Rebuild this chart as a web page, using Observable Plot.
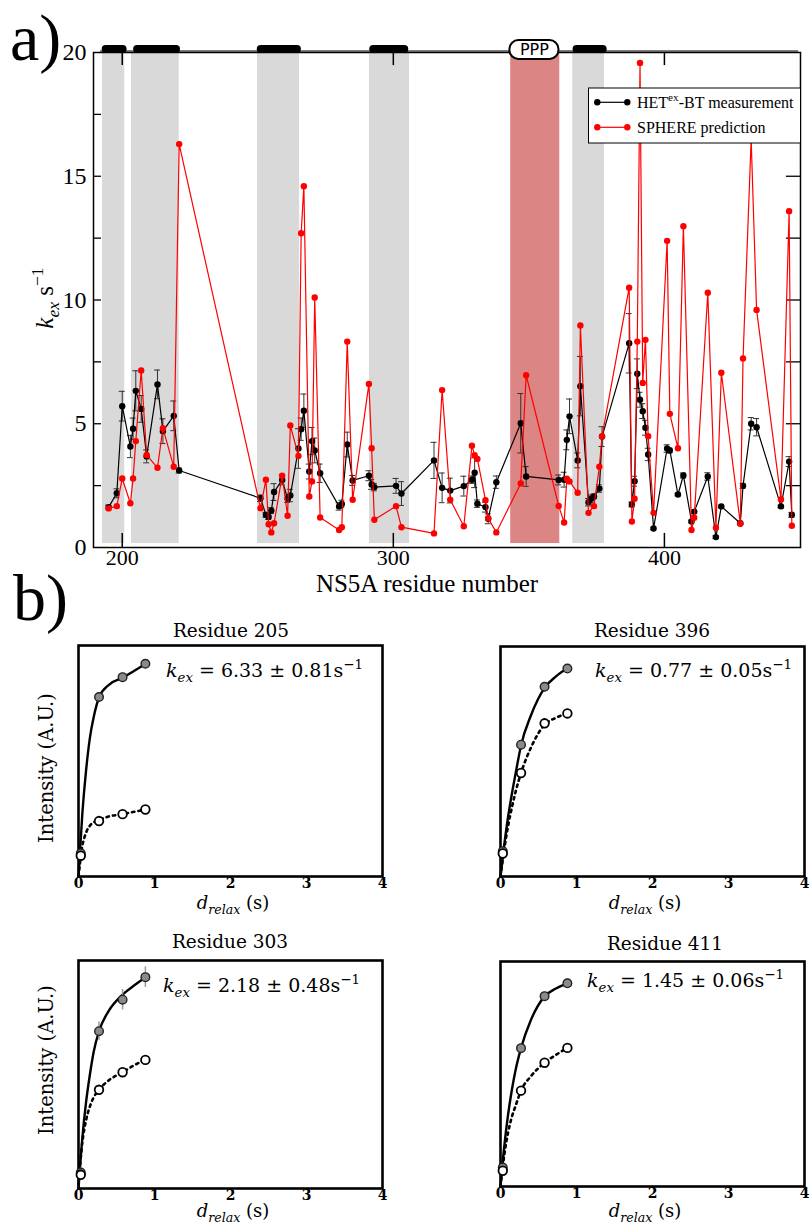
<!DOCTYPE html>
<html><head><meta charset="utf-8">
<script src="https://cdn.jsdelivr.net/npm/d3@7"></script>
<script src="https://cdn.jsdelivr.net/npm/@observablehq/plot@0.6"></script>
<style>
body{margin:0;background:#fff;}
#wrap{position:relative;width:810px;height:1223px;overflow:hidden;background:#fff;}
#wrap svg{position:absolute;}
</style></head><body><div id="wrap"></div>
<script>
// ---------- panel a) data ----------
const resB = [195,198,200,203,204,205,207,209,213,215,219,221,
  251,253,254,255,256,259,261,262,265,266,267,269,270,271,273,
  280,281,283,285,291,292,293,301,303,
  315,318,321,326,329,330,331,334,335,338,347,349,
  361,363,364,365,368,369,372,373,374,376,377,
  387,388,389,390,391,392,393,394,396,
  401,402,405,407,410,411,416,419,421,428,429,432,434,443,446,447];
const kexB = [1.63,2.19,5.71,4.08,4.8,6.33,5.6,3.68,6.59,4.7,5.32,3.11,
  1.99,1.32,1.23,1.49,2.24,2.73,1.97,2.1,4.0,4.78,5.53,3.07,4.3,3.92,3.0,
  1.66,1.76,4.16,2.71,2.9,2.55,2.44,2.49,2.18,
  3.52,2.41,2.3,2.48,2.74,3.02,1.77,1.63,1.16,2.64,5.02,2.87,
  2.73,2.74,4.35,5.3,3.52,6.52,1.83,1.97,2.06,2.38,4.48,
  8.25,1.74,2.68,7.02,5.97,5.51,4.84,3.76,0.77,
  4.0,3.92,2.14,2.91,1.05,1.45,2.87,0.42,1.66,0.98,2.49,5.0,4.86,1.66,3.47,1.32];
const errB = [0.08,0.18,0.6,0.45,0.43,0.81,0.54,0.26,0.58,0.5,0.6,0.1,
  0.13,0.1,0.1,0.12,0.34,0.2,0.15,0.25,0.8,0.45,0.67,0.3,0.55,0.5,0.37,
  0.15,0.15,0.5,0.2,0.2,0.2,0.15,0.3,0.48,
  0.73,0.6,0.5,0.4,0.15,0.6,0.15,0.2,0.2,0.25,1.2,0.4,
  0.2,0.3,0.4,0.7,0.3,1.2,0.15,0.15,0.1,0.15,0.4,
  1.2,0.1,0.2,0.6,0.3,0.3,0.3,0.25,0.05,
  0.15,0.1,0.05,0.1,0.05,0.06,0.15,0.05,0.05,0.05,0.1,0.25,0.35,0.05,0.2,0.1];
const resR = [195,198,200,203,204,205,207,209,213,215,219,221,
  251,253,254,255,256,259,261,262,265,266,267,269,270,271,273,
  280,281,283,285,291,292,293,301,303,
  315,318,321,326,329,330,331,334,335,338,347,349,
  361,363,364,365,368,369,372,374,376,377,
  387,388,389,390,391,392,393,394,396,
  401,402,405,407,410,411,416,419,421,428,429,432,434,443,446,447];
const kexR = [1.58,1.67,2.79,1.79,2.79,4.3,7.15,3.74,3.22,4.82,3.26,16.3,
  1.59,2.74,0.94,0.61,0.98,2.9,1.28,4.93,3.7,12.7,14.6,2.06,2.67,10.1,1.21,
  0.71,0.82,8.32,1.93,6.61,4.01,1.12,1.67,0.82,
  0.57,6.36,1.93,0.86,4.11,3.73,3.58,1.91,1.18,0.61,2.59,6.96,
  1.68,1.01,2.78,2.67,2.21,8.97,1.4,1.67,3.26,4.5,
  10.5,1.05,1.97,8.32,19.58,6.65,8.39,4.5,1.4,
  12.39,5.4,4.01,12.98,0.71,1.2,10.29,0.8,7.06,0.96,7.64,16.5,9.6,1.94,13.59,0.88];
const greyFrom = [192.7,203.4,249.9,291.2,366.2];
const greyTo   = [200.9,221.0,265.4,306.0,377.9];
const pppFrom = 343.3, pppTo = 361.4;
const barFrom = [192.6,204.2,249.8,291.3,366.3];
const barTo   = [201.8,221.5,266.1,305.7,378.9];
const pppLabel = "PPP";
const yTicks = [0,5,10,15,20];
const yTickMarks = [2.5,5,7.5,10,12.5,15,17.5];
const xTicks = [200,300,400];
const seriesNames = ["HET", "SPHERE prediction"];

// ---------- panel b) data ----------
const panelRes = [205,396,303,411];
const panelKex = ["6.33","0.77","2.18","1.45"];
const panelErr = ["0.81","0.05","0.48","0.06"];
const delays = [0.03,0.27,0.58,0.88];
const fil205 = [0.10,0.777,0.863,0.921], opn205 = [0.09,0.24,0.27,0.29];
const fil396 = [0.11,0.573,0.825,0.904], opn396 = [0.10,0.45,0.666,0.709];
const fil303 = [0.07,0.69,0.828,0.927], opn303 = [0.06,0.433,0.51,0.564];
const err303 = [0.02,0.04,0.045,0.045];
const fil411 = [0.084,0.615,0.846,0.903], opn411 = [0.07,0.426,0.55,0.616];
const fitT = [0,0.05,0.1,0.15,0.2,0.27,0.4,0.58,0.73,0.88];
const sol205 = [0,0.27,0.46,0.6,0.69,0.775,0.83,0.86,0.89,0.92];
const dsh205 = [0,0.13,0.19,0.22,0.235,0.245,0.26,0.27,0.28,0.29];
const sol396 = [0,0.14,0.26,0.36,0.45,0.57,0.7,0.82,0.87,0.905];
const dsh396 = [0,0.12,0.22,0.3,0.37,0.45,0.56,0.66,0.69,0.71];
const sol303 = [0,0.22,0.38,0.5,0.6,0.69,0.78,0.85,0.89,0.925];
const dsh303 = [0.02,0.2,0.3,0.36,0.4,0.433,0.475,0.51,0.54,0.565];
const sol411 = [0,0.18,0.32,0.43,0.52,0.615,0.74,0.845,0.88,0.903];
const dsh411 = [0,0.14,0.24,0.31,0.36,0.426,0.49,0.55,0.585,0.616];
const panelTicks = [0,1,2,3,4];

const wrap = document.getElementById("wrap");
function place(node, left, topPx){ node.style.left = left+"px"; node.style.top = topPx+"px"; wrap.appendChild(node); }

// ---------- chart a ----------
const black = resB.map((r,i)=>({r, v:kexB[i], e:errB[i]}));
const red = resR.map((r,i)=>({r, v:kexR[i]}));
const greys = greyFrom.map((a,i)=>({a, b:greyTo[i]}));
const bars = barFrom.map((a,i)=>({a, b:barTo[i]}));
const X0 = 189.4, X1 = 450.2;
const chartA = Plot.plot({
  width: 810, height: 600, marginLeft: 93, marginRight: 10, marginTop: 52, marginBottom: 53,
  x: {domain: [X0, X1]}, y: {domain: [0, 20]},
  style: {background: "transparent", overflow: "visible", fontFamily: "'Liberation Serif', serif", color: "#000"},
  marks: [
    Plot.rect(greys, {x1: "a", x2: "b", y1: 0.16, y2: 19.96, fill: "#d9d9d9"}),
    Plot.rect([{a: pppFrom, b: pppTo}], {x1: "a", x2: "b", y1: 0.16, y2: 19.96, fill: "#dc8585"}),
    Plot.ruleY(yTickMarks, {x1: X0, x2: X0 + 2.95, stroke: "#000", strokeWidth: 1.3}),
    Plot.ruleY(yTickMarks, {x1: X1 - 5.2, x2: X1, stroke: "#000", strokeWidth: 1.3}),
    Plot.ruleX(xTicks, {y1: 0, y2: 0.57, stroke: "#000", strokeWidth: 1.5}),
    Plot.ruleX(xTicks, {y1: 19.47, y2: 20, stroke: "#000", strokeWidth: 1.5}),
    Plot.frame({stroke: "#000", strokeWidth: 1.5}),
    Plot.ruleY([20.06], {x1: 192, x2: 449.5, stroke: "#000", strokeWidth: 1}),
    Plot.rect(bars, {x1: "a", x2: "b", y1: 19.96, y2: 20.28, fill: "#000", rx: 4}),
    Plot.rect([{a: pppFrom - 0.3, b: pppTo - 0.3}], {x1: "a", x2: "b", y1: 19.72, y2: 20.48, fill: "#fff", stroke: "#000", strokeWidth: 2, rx: 9}),
    Plot.text([pppLabel], {x: (pppFrom + pppTo) / 2 - 0.3, y: 20.1, fontFamily: "'DejaVu Sans', sans-serif", fontSize: 16, fill: "#000"}),
    Plot.ruleX(black, {x: "r", y1: d => d.v - d.e, y2: d => d.v + d.e, stroke: "#333", strokeWidth: 1}),
    Plot.ruleY(black, {y: d => d.v + d.e, x1: d => d.r - 1.1, x2: d => d.r + 1.1, stroke: "#333", strokeWidth: 1}),
    Plot.ruleY(black, {y: d => d.v - d.e, x1: d => d.r - 1.1, x2: d => d.r + 1.1, stroke: "#333", strokeWidth: 1}),
    Plot.line(black, {x: "r", y: "v", stroke: "#000", strokeWidth: 1.2}),
    Plot.dot(black, {x: "r", y: "v", r: 3.2, fill: "#000"}),
    Plot.line(red, {x: "r", y: "v", stroke: "#ff0000", strokeWidth: 1.2}),
    Plot.dot(red, {x: "r", y: "v", r: 3.2, fill: "#ff0000"}),
    Plot.axisY({ticks: yTicks, tickSize: 0, tickPadding: 7, fontSize: 24, label: null}),
    Plot.axisX({ticks: xTicks, tickSize: 0, tickPadding: 2, fontSize: 22, label: null})
  ]
});
place(chartA, 0, 0);

// ---------- panels b ----------
function makePanel(fil, opn, err, sol, dsh, o) {
  const pts = delays.map((t,i)=>({t, f: fil[i], o: opn[i], e: err ? err[i] : 0}));
  const curve = fitT.map((t,i)=>({t, s: sol[i], d: dsh[i]}));
  const marks = [
    Plot.frame({stroke: "#000", strokeWidth: 2.6}),
    Plot.line(curve, {x: "t", y: "d", stroke: "#000", strokeWidth: 2.6, strokeDasharray: "2.5,4", curve: "monotone-x"}),
    Plot.line(curve, {x: "t", y: "s", stroke: "#000", strokeWidth: 2.4, curve: "monotone-x"}),
  ];
  if (err) marks.push(Plot.ruleX(pts, {x: "t", y1: d => d.f - d.e, y2: d => d.f + d.e, stroke: "#999", strokeWidth: 1.5}));
  marks.push(
    Plot.dot(pts, {x: "t", y: "f", r: 4.3, fill: "#8a8a8a", stroke: "#222", strokeWidth: 1.4}),
    Plot.dot(pts, {x: "t", y: "o", r: 4.3, fill: "#fff", stroke: "#000", strokeWidth: 1.8}),
    Plot.axisX({ticks: panelTicks, tickFormat: d => String(d), tickSize: 0, tickPadding: 2, fontSize: 14, fontWeight: "bold", fontFamily: "'DejaVu Serif', serif", label: null})
  );
  return Plot.plot({
    width: 78 + 304 + o.mr, height: o.mt + o.fh + o.mb,
    marginLeft: 78, marginRight: o.mr, marginTop: o.mt, marginBottom: o.mb,
    x: {domain: [0, 4]}, y: {domain: [0, 1], axis: null},
    style: {background: "transparent", overflow: "visible", color: "#000"},
    marks
  });
}
place(makePanel(fil205, opn205, null, sol205, dsh205, {mr: 8, mt: 45, fh: 231, mb: 40}), 0, 600);
place(makePanel(fil396, opn396, null, sol396, dsh396, {mr: 5, mt: 46, fh: 230, mb: 40}), 422, 600);
place(makePanel(fil303, opn303, err303, sol303, dsh303, {mr: 8, mt: 45, fh: 228, mb: 35}), 0, 915);
place(makePanel(fil411, opn411, null, sol411, dsh411, {mr: 5, mt: 46, fh: 225, mb: 37}), 422, 915);

// ---------- overlay text ----------
const ov = d3.create("svg").attr("width", 810).attr("height", 1223).style("pointer-events", "none");
function rich(x, y, parts, {size, family, anchor = "start", rotate = 0, weight = "normal"}) {
  const t = ov.append("text").attr("x", x).attr("y", y).attr("font-size", size)
    .attr("font-family", family).attr("text-anchor", anchor).attr("font-weight", weight).attr("fill", "#000");
  if (rotate) t.attr("transform", `rotate(${rotate},${x},${y})`);
  let shift = 0;
  for (const p of parts) {
    const target = p.sub ? size * 0.25 : p.sup ? -size * 0.42 : 0;
    const s = t.append("tspan").text(p.t).attr("dy", target - shift);
    shift = target;
    if (p.sub || p.sup) s.attr("font-size", size * 0.7);
    if (p.i) s.attr("font-style", "italic");
  }
  return t;
}
const SERIF = "'Liberation Serif', serif";
const DSERIF = "'DejaVu Serif', serif";
rich(10, 60, [{t: "a)"}], {size: 66, family: SERIF});
rich(13, 620, [{t: "b)"}], {size: 66, family: SERIF});
rich(53, 298, [{t: "k", i: 1}, {t: "ex", i: 1, sub: 1}, {t: " s"}, {t: "−1", sup: 1}], {size: 25, family: SERIF, anchor: "middle", rotate: -90});
rich(427, 592, [{t: "NS5A residue number"}], {size: 25, family: SERIF, anchor: "middle"});

// legend
ov.append("rect").attr("x", 588.5).attr("y", 88).attr("width", 212).attr("height", 55).attr("fill", "#fff").attr("stroke", "#000").attr("stroke-width", 1);
[["#000", 102.3], ["#ff0000", 127.3]].forEach(([c, y]) => {
  ov.append("line").attr("x1", 597.3).attr("x2", 627.3).attr("y1", y).attr("y2", y).attr("stroke", c).attr("stroke-width", 1.2);
  ov.append("circle").attr("cx", 597.3).attr("cy", y).attr("r", 3.2).attr("fill", c);
  ov.append("circle").attr("cx", 627.3).attr("cy", y).attr("r", 3.2).attr("fill", c);
});
rich(637, 107.5, [{t: seriesNames[0]}, {t: "ex", sup: 1}, {t: "-BT measurement"}], {size: 16, family: SERIF});
rich(637, 132.5, [{t: seriesNames[1]}], {size: 16, family: SERIF});

// panel texts
const titleX = [231, 652, 230, 665], titleY = [637, 637, 948, 950];
const annX = [166, 595, 163, 587], annY = [677, 677, 992, 987];
const dlX = [233, 645, 233, 645], dlY = [909, 909, 1217, 1217];
panelRes.forEach((r, i) => {
  rich(titleX[i], titleY[i], [{t: "Residue " + r}], {size: 18.5, family: DSERIF, anchor: "middle"});
  rich(annX[i], annY[i], [{t: "k", i: 1}, {t: "ex", i: 1, sub: 1}, {t: " = " + panelKex[i] + " ± " + panelErr[i] + "s"}, {t: "−1", sup: 1}], {size: 19, family: DSERIF});
  rich(dlX[i], dlY[i], [{t: "d", i: 1}, {t: "relax", i: 1, sub: 1}, {t: " (s)"}], {size: 18, family: DSERIF, anchor: "middle"});
});
rich(53, 768, [{t: "Intensity (A.U.)"}], {size: 19.5, family: DSERIF, anchor: "middle", rotate: -90});
rich(53, 1060, [{t: "Intensity (A.U.)"}], {size: 19.5, family: DSERIF, anchor: "middle", rotate: -90});

place(ov.node(), 0, 0);
</script>
</body></html>
